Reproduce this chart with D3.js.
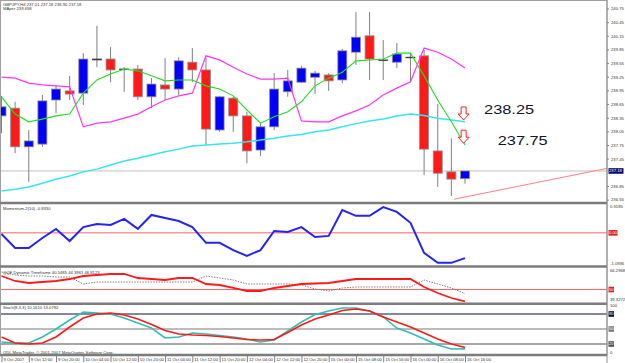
<!DOCTYPE html>
<html>
<head>
<meta charset="utf-8">
<title>GBPJPY,H4</title>
<style>
body{margin:0;background:#fff;}
svg{display:block;}
text{font-family:"Liberation Sans",Arial,sans-serif;}
</style>
</head>
<body>
<script src="https://cdnjs.cloudflare.com/ajax/libs/d3/7.8.5/d3.min.js"></script>
<script>
// GBPJPY H4 candles, 9 Oct 2007 -> 16 Oct 2007
var open  = [238.39,238.56,237.71,237.77,238.74,238.94,238.89,239.64,239.64,239.42,239.42,238.81,239.07,238.98,239.57,239.40,238.08,238.78,238.39,237.64,238.15,238.92,239.13,239.24,239.29,239.18,239.79,240.15,239.62,239.57,239.68,239.71,237.62,237.16,237.01];
var high  = [238.83,238.70,238.08,238.85,239.07,239.27,239.77,240.37,239.90,239.46,239.51,239.22,239.66,239.68,239.88,239.68,238.83,238.81,238.48,238.23,239.33,239.40,239.49,239.38,239.33,239.86,240.67,240.67,240.06,239.99,239.77,239.84,238.65,237.90,237.18];
var low   = [238.01,237.57,236.94,237.71,238.45,238.74,238.63,239.46,239.13,238.92,238.74,238.56,238.74,238.85,239.13,237.75,238.04,238.04,237.35,237.51,238.08,238.81,239.11,238.87,238.94,239.11,239.51,239.18,239.18,239.44,239.13,237.09,236.83,236.63,236.90];
var close = [238.59,237.71,237.84,238.72,238.98,238.87,239.64,239.62,239.40,239.41,238.81,239.09,238.98,239.60,239.40,238.10,238.81,238.39,237.62,238.15,238.98,239.16,239.44,239.33,239.16,239.82,240.12,239.64,239.61,239.75,239.67,237.66,237.13,237.00,237.18];

// overlays on the price window
var maFast = [238.81,238.43,238.26,238.32,238.39,238.43,238.89,239.18,239.31,239.42,239.38,239.27,239.16,239.18,239.18,239.05,238.98,238.83,238.52,238.23,238.37,238.48,238.70,239.05,239.22,239.35,239.60,239.62,239.64,239.77,239.77,239.27,238.74,238.26,237.75];
var band   = [239.24,239.22,239.11,239.07,239.05,239.03,238.15,238.23,238.26,238.34,238.43,238.59,238.74,238.83,238.89,239.71,239.62,239.46,239.31,239.20,239.20,239.22,238.28,238.26,238.26,238.39,238.50,238.63,238.85,239.00,239.14,239.88,239.79,239.64,239.44];
var maSlow = [236.74,236.78,236.83,236.91,237.00,237.07,237.16,237.22,237.31,237.40,237.46,237.53,237.60,237.66,237.73,237.75,237.77,237.79,237.82,237.86,237.90,237.95,237.98,238.04,238.08,238.15,238.22,238.28,238.32,238.39,238.43,238.40,238.34,238.30,238.26];

// sub windows
var momentum = [-0.04,-0.50,-0.50,-0.17,0.13,-0.27,0.19,0.29,0.26,0.46,0.13,0.59,0.49,0.39,0.19,-0.33,-0.33,-0.57,-0.76,-0.57,0.06,0.03,0.19,-0.14,-0.10,0.75,0.56,0.56,0.85,0.69,0.33,-0.66,-0.99,-0.99,-0.833];
var qqeMain = [60.74,56.78,55.19,55.98,56.78,58.36,60.74,61.54,62.33,62.33,59.16,58.36,57.57,59.16,59.16,54.40,53.60,51.23,48.85,48.85,51.23,52.81,54.40,54.79,55.19,56.78,58.36,58.36,58.36,58.36,58.36,52.02,47.26,43.29,40.55];
var qqeSlow = [63.92,61.54,60.74,60.74,59.95,59.95,54.40,55.98,55.98,55.98,55.98,55.98,55.98,55.98,55.98,60.74,59.16,57.57,54.40,54.40,54.40,54.40,53.60,50.43,48.85,51.23,52.02,52.02,52.02,52.02,52.02,57.57,54.40,51.23,46.81];
var stochMain   = [24,22,22,34,50,68,84,82,80,72,62,52,32,34,42,40,37,34,30,24,28,46,64,79,86,92,92,86,74,52,42,30,18,10,10.16];
var stochSignal = [34,22,20,22,34,54,72,80,82,78,70,59,47,40,38,37,35,32,29,28,29,43,58,70,78,87,90,86,74,64,54,42,30,20,13.08];

// axis labels
var priceTicks = [240.75,240.45,240.15,239.85,239.55,239.25,238.95,238.65,238.35,238.05,237.75,237.45,236.85,236.55];
var timeLabels = ["9 Oct 2007","9 Oct 12:00","9 Oct 20:00","10 Oct 04:00","10 Oct 12:00","10 Oct 20:00","11 Oct 04:00","11 Oct 12:00","11 Oct 20:00","12 Oct 04:00","12 Oct 12:00","12 Oct 20:00","15 Oct 00:00","15 Oct 08:00","15 Oct 16:00","16 Oct 00:00","16 Oct 08:00","16 Oct 16:00"];
var bid = 237.18;

// drawn objects
var arrows = [{i:33.9, p:238.30}, {i:33.9, p:237.79}];
var notes  = [{i:35.4, p:238.54, t:"238.25"}, {i:36.4, p:237.85, t:"237.75"}];
var trend  = [{i:33.2, p:236.56}, {i:44.8, p:237.26}];

var W = 625, H = 363, AX = 607;
var svg = d3.select('body').append('svg').attr('width',W).attr('height',H);
svg.append('rect').attr('width',W).attr('height',H).attr('fill','#fff');

var x = d3.scaleLinear().domain([0,34]).range([1.5,465]);
var y = d3.scaleLinear().domain([236.52,240.915]).range([201,1]);
var yM = d3.scaleLinear().domain([-1.0936,0.9185]).range([266,205]);
var yQ = d3.scaleLinear().domain([39.3272,66.2968]).range([303,269]);
var yS = d3.scaleLinear().domain([0,100]).range([354,304]);

var fs = 4.2, txt = '#333';

svg.append('clipPath').attr('id','main').append('rect').attr('x',0).attr('y',0).attr('width',AX).attr('height',202);

// price window
var main = svg.append('g').attr('clip-path','url(#main)');

main.append('line').attr('x1',0).attr('x2',AX).attr('y1',y(bid)).attr('y2',y(bid))
  .attr('stroke','#c0c0c0').attr('stroke-width',1);

main.append('path').datum(trend)
  .attr('d', d3.line().x(function(d){return x(d.i);}).y(function(d){return y(d.p);}))
  .attr('fill','none').attr('stroke','#ff8080').attr('stroke-width',1);

var bars = d3.range(open.length).map(function(i){
  return {i:i, o:open[i], h:high[i], l:low[i], c:close[i]};
});

var g = main.selectAll('g.bar').data(bars).enter().append('g').attr('class','bar');
g.append('line')
  .attr('x1',function(d){return x(d.i);}).attr('x2',function(d){return x(d.i);})
  .attr('y1',function(d){return y(d.h);}).attr('y2',function(d){return y(d.l);})
  .attr('stroke','#808080').attr('stroke-width',1);
g.append('rect')
  .attr('x',function(d){return x(d.i)-4.5;})
  .attr('width',9)
  .attr('y',function(d){return y(Math.max(d.o,d.c));})
  .attr('height',function(d){return Math.max(0.6, Math.abs(y(d.o)-y(d.c)));})
  .attr('fill',function(d){
    if (Math.abs(d.o-d.c) < 0.03) return '#303030';
    return d.c > d.o ? '#0000ff' : '#ff1a1a';
  })
  .attr('stroke',function(d){ return Math.abs(d.o-d.c) < 0.03 ? '#404040' : '#909090'; })
  .attr('stroke-width',0.8);

function overlay(vals, sc, color, w){
  return d3.line().x(function(d,i){return x(i);}).y(function(d){return sc(d);})(vals);
}
main.append('path').attr('d',overlay(maSlow,y)).attr('fill','none').attr('stroke','#33e6f2').attr('stroke-width',1.5);
main.append('path').attr('d',overlay(band,y)).attr('fill','none').attr('stroke','#ff33ff').attr('stroke-width',1.2);
main.append('path').attr('d',overlay(maFast,y)).attr('fill','none').attr('stroke','#22dd22').attr('stroke-width',1.1);

// sell arrows
main.selectAll('path.arr').data(arrows).enter().append('path').attr('class','arr')
  .attr('transform',function(d){return 'translate('+x(d.i)+','+y(d.p)+')';})
  .attr('d','M0,0 L-5.5,-6 L-2.5,-6 L-2.5,-13 L2.5,-13 L2.5,-6 L5.5,-6 Z')
  .attr('fill','#fff').attr('stroke','#ff2020').attr('stroke-width',1);

main.selectAll('text.note').data(notes).enter().append('text').attr('class','note')
  .attr('x',function(d){return x(d.i);}).attr('y',function(d){return y(d.p);})
  .attr('dy','0.36em').attr('font-size',13).attr('fill','#14142a')
  .attr('textLength',50).attr('lengthAdjust','spacingAndGlyphs')
  .text(function(d){return d.t;});

svg.append('text').attr('x',3).attr('y',5.8).attr('font-size',fs).attr('fill',txt)
  .text('GBPJPY,H4  237.01 237.18 236.90 237.18');
svg.append('text').attr('x',3).attr('y',10.2).attr('font-size',fs).attr('fill',txt)
  .text('MAper 239.658');

// momentum
svg.append('line').attr('x1',0).attr('x2',AX).attr('y1',yM(0)).attr('y2',yM(0)).attr('stroke','#ff6060').attr('stroke-width',1);
svg.append('path').attr('d',overlay(momentum,yM)).attr('fill','none').attr('stroke','#2323ff').attr('stroke-width',2);
svg.append('text').attr('x',3).attr('y',210).attr('font-size',fs).attr('fill',txt).text('Momentum-2(10) -0.8330');

// QQE
svg.append('line').attr('x1',0).attr('x2',AX).attr('y1',yQ(50)).attr('y2',yQ(50)).attr('stroke','#ff6060').attr('stroke-width',1);
svg.append('path').attr('d',overlay(qqeSlow,yQ)).attr('fill','none').attr('stroke','#808080').attr('stroke-width',1).attr('stroke-dasharray','1.5,1.2');
svg.append('path').attr('d',overlay(qqeMain,yQ)).attr('fill','none').attr('stroke','#ff1a1a').attr('stroke-width',1.8);
svg.append('text').attr('x',3).attr('y',273.5).attr('font-size',fs).attr('fill',txt).text('QQE Dynamic Timeframe 40.5485 44.3961 46.8123');

// stochastic
var levels = [{v:80,c:'#10103a'},{v:50,c:'#7a7a7a'},{v:20,c:'#505050'}];
svg.selectAll('line.lvl').data(levels).enter().append('line').attr('class','lvl')
  .attr('x1',0).attr('x2',AX).attr('y1',function(d){return yS(d.v);}).attr('y2',function(d){return yS(d.v);})
  .attr('stroke',function(d){return d.c;}).attr('stroke-width',1.2);
svg.append('path').attr('d',overlay(stochMain,yS)).attr('fill','none').attr('stroke','#2fbfb5').attr('stroke-width',1.6);
svg.append('path').attr('d',overlay(stochSignal,yS)).attr('fill','none').attr('stroke','#ff1a1a').attr('stroke-width',1.6);
svg.append('text').attr('x',3).attr('y',309).attr('font-size',fs).attr('fill',txt).text('Stoch(8,3,3) 10.1610 13.0792');
svg.append('text').attr('x',3).attr('y',353.5).attr('font-size',fs).attr('fill',txt).text('ODL MetaTrader, \u00a9 2001-2007 MetaQuotes Software Corp.');

// frame and window separators
svg.append('rect').attr('x',0.5).attr('y',0.5).attr('width',AX-0.5).attr('height',354.5)
  .attr('fill','none').attr('stroke','#a0a0a0').attr('stroke-width',1);
[203, 266.5, 303.8, 355].forEach(function(s){
  svg.append('line').attr('x1',0).attr('x2',AX).attr('y1',s).attr('y2',s).attr('stroke','#7c7c7c').attr('stroke-width',2.4);
});
svg.append('line').attr('x1',AX).attr('x2',AX).attr('y1',0).attr('y2',H).attr('stroke','#909090').attr('stroke-width',1);

// price axis
var pa = svg.append('g').attr('transform','translate('+AX+',0)')
  .call(d3.axisRight(y).tickValues(priceTicks).tickSize(2).tickPadding(2).tickFormat(d3.format('.2f')));
pa.select('.domain').remove();
pa.selectAll('line').attr('stroke','#808080');
pa.selectAll('text').attr('font-size',fs).attr('fill',txt).attr('font-family','"Liberation Sans",Arial,sans-serif');

function boxLabel(yy, label, bg, w){
  svg.append('rect').attr('x',AX+1.5).attr('y',yy-2.8).attr('width',w).attr('height',5.6).attr('fill',bg);
  svg.append('text').attr('x',AX+2).attr('y',yy).attr('dy','0.35em').attr('font-size',fs).attr('fill','#fff').text(label);
}
boxLabel(y(bid), d3.format('.2f')(bid), '#0a0a6a', 15);

function sideLabel(yy, label){
  svg.append('text').attr('x',AX+3).attr('y',yy).attr('dy','0.35em').attr('font-size',fs).attr('fill',txt).text(label);
}
sideLabel(yM.range()[1]+1.5, '0.9185');
sideLabel(yM.range()[0]-2, '-1.0936');
boxLabel(yM(0), '0.00', '#e02020', 9);
sideLabel(yQ.range()[1]+1.5, '66.2968');
sideLabel(yQ.range()[0]-3, '39.3272');
boxLabel(yQ(50), '50', '#e02020', 5.5);
sideLabel(yS(100)+2, '100');
sideLabel(yS(0)-1.5, '0');
levels.forEach(function(d){ boxLabel(yS(d.v), String(d.v), d.c, 5.5); });

// time axis
var ta = svg.append('g').attr('transform','translate(0,355)')
  .call(d3.axisBottom(x).tickValues(d3.range(0,35,2)).tickSize(7)
    .tickFormat(function(d,i){return timeLabels[i];}));
ta.select('.domain').remove();
ta.selectAll('line').attr('stroke','#808080');
ta.selectAll('text').attr('font-size',fs).attr('fill',txt).attr('text-anchor','start')
  .attr('x',1.5).attr('y',3.5).attr('dy','0.71em').attr('font-family','"Liberation Sans",Arial,sans-serif');
</script>
</body>
</html>
